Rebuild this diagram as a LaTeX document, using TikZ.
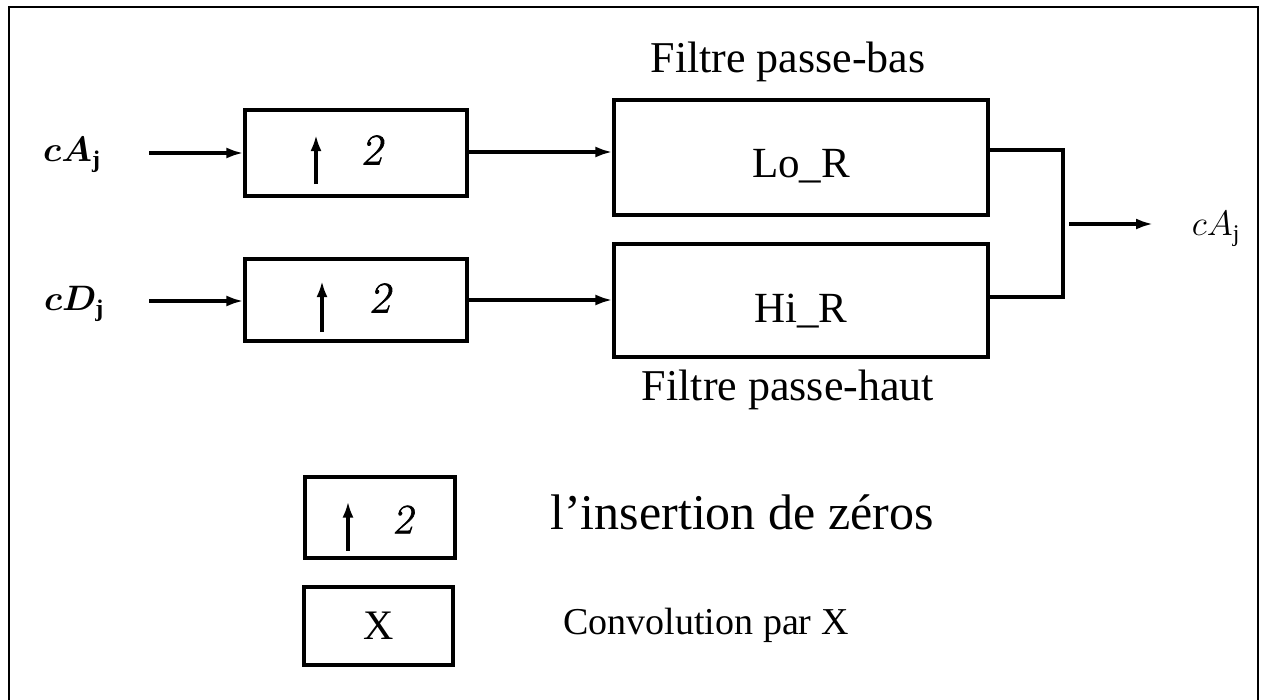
\documentclass[tikz,border=0pt]{standalone}
\usepackage{graphicx}
\usepackage{amsmath}
\usepackage{bm}
\usepackage{fontspec}
\setmainfont{Liberation Serif}
\newfontfamily\lmslant[FakeSlant=0.18,FakeBold=1.5]{Latin Modern Roman}
\usetikzlibrary{arrows.meta}
\newcommand{\biglbl}[1]{\scalebox{1.42}{\fontsize{24}{28}\selectfont#1}}
\begin{document}
\begin{tikzpicture}[x=1pt,y=-1pt,
  blk/.style={draw,line width=3.2pt,inner sep=0pt},
  conn/.style={line width=3.2pt,-{Latex[length=17pt,width=11pt]}},
  wire/.style={line width=3.2pt},
  uparr/.style={line width=3.4pt,-{Latex[length=16pt,width=11pt]}},
  lbl/.style={inner sep=0pt,font=\fontsize{43}{46}\selectfont},
  filtcap/.style={inner sep=0pt,anchor=base,font=\fontsize{44}{48}\selectfont},
  mathlbl/.style={inner sep=0pt},
  two/.style={inner sep=0pt,font=\lmslant\fontsize{44}{48}\selectfont}]
\useasboundingbox (0,0) rectangle (1266,699);
\draw[line width=2pt] (9,702) -- (9,7) -- (1258,7) -- (1258,702);
% input labels
\node[mathlbl] (ca) at (72,155) {\biglbl{$\bm{cA}_{\mathrm{\mathbf{j}}}$}};
\node[mathlbl] (cd) at (74,304) {\biglbl{$\bm{cD}_{\mathrm{\mathbf{j}}}$}};
\coordinate (ca0) at (149,153);
\coordinate (cd0) at (149,301);
% upsampling boxes
\node[blk,minimum width=222pt,minimum height=86pt] (up1) at (356,153) {};
\node[blk,minimum width=222pt,minimum height=82pt] (up2) at (356,300) {};
\draw[uparr] ([shift={(-40,31)}]up1.center) -- ([shift={(-40,-18)}]up1.center);
\node[two] (t1) at ([shift={(16,-3)}]up1.center) {2};
\draw[uparr] ([shift={(-34,32)}]up2.center) -- ([shift={(-34,-19)}]up2.center);
\node[two] (t2) at ([shift={(24,-2)}]up2.center) {2};
% filters
\node[blk,minimum width=374pt,minimum height=115pt] (lo) at (801,157.5) {};
\node[blk,minimum width=374pt,minimum height=113pt] (hi) at (801,300.5) {};
\node[lbl,anchor=base] (lot) at (801,177) {Lo\_R};
\node[lbl,anchor=base] (hit) at (801,322) {Hi\_R};
\node[filtcap] (fb) at (788,72) {Filtre passe-bas};
\node[filtcap] (fh) at (788,400) {Filtre passe-haut};
% connectors
\draw[conn] (ca0) -- (up1.west);
\draw[conn] (cd0) -- (up2.west |- cd0);
\coordinate (m1) at (467,152);
\coordinate (m2) at (467,300);
\draw[conn] (m1) -- (m1 -| lo.west);
\draw[conn] (m2) -- (m2 -| hi.west);
\coordinate (j1) at (1063,150);
\coordinate (j2) at (1063,297);
\draw[wire] (lo.east |- j1) -- (j1) -- (j2) -- (hi.east |- j2);
\coordinate (os) at (1069,224);
\coordinate (oe) at (1153,224);
\node[mathlbl] (out) at (1216,229) {\biglbl{$cA_{\mathrm{j}}$}};
\draw[conn] (os) -- (oe);
% legend
\node[blk,minimum width=150pt,minimum height=81pt] (lg1) at (380,517.5) {};
\draw[uparr] ([shift={(-32,33)}]lg1.center) -- ([shift={(-32,-16)}]lg1.center);
\node[two,font=\lmslant\fontsize{42}{46}\selectfont] (t3) at ([shift={(23,2)}]lg1.center) {2};
\node[inner sep=0pt,anchor=base,font=\fontsize{50}{54}\selectfont] (ins) at (742,529) {l’insertion de zéros};
\node[blk,minimum width=149pt,minimum height=78pt,lbl,font=\fontsize{42}{46}\selectfont] (lg2) at (378.5,626) {X};
\node[inner sep=0pt,anchor=base,font=\fontsize{38}{42}\selectfont] (conv) at (706,634) {Convolution par X};
\end{tikzpicture}
\end{document}
